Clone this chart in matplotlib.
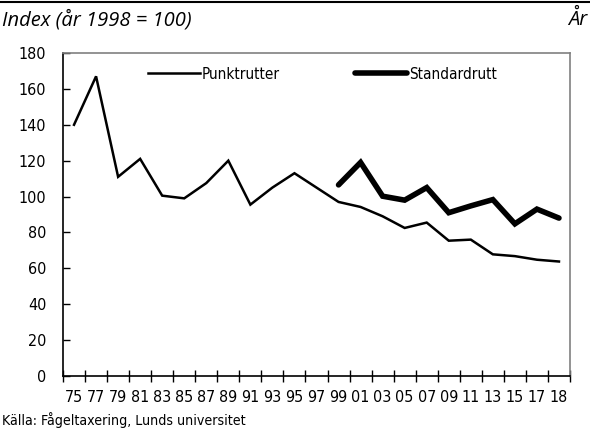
import numpy as np
import matplotlib
matplotlib.use('Agg')
import matplotlib.pyplot as plt
from matplotlib.ticker import FixedLocator, NullFormatter
from matplotlib.font_manager import FontProperties

# Data
years = ['75', '77', '79', '81', '83', '85', '87', '89', '91', '93', '95', '97',
         '99', '01', '03', '05', '07', '09', '11', '13', '15', '17', '18']
punkt = [140, 167, 111, 121, 100.5, 99, 107.5, 120, 95.5, 105, 113, 105,
         97, 94.2, 89, 82.5, 85.5, 75.4, 76, 67.8, 66.8, 64.8, 63.8]
standard = [106.5, 119, 100.2, 98, 105, 91, 94.8, 98.3, 84.8, 93, 88]
standard_start = 12  # 1999
yticks = [0, 20, 40, 60, 80, 100, 120, 140, 160, 180]

narrow = FontProperties(family='DejaVu Sans', stretch='condensed', size=11.5)
legfont = FontProperties(family='DejaVu Sans', stretch='condensed', size=11)

fig = plt.figure(figsize=(5.9, 4.34), dpi=100)
ax = fig.add_axes([63/590, 1 - 376/434, (570 - 63)/590, (376 - 53)/434])

x = np.arange(len(years))
ax.plot(x, punkt, color='black', lw=1.8, label='Punktrutter', solid_joinstyle='miter')
xs = np.arange(standard_start, standard_start + len(standard))
ax.plot(xs, standard, color='black', lw=4, label='Standardrutt', solid_joinstyle='miter',
        solid_capstyle='round')

ax.set_xlim(-0.5, len(years) - 0.5)
ax.set_ylim(0, 180)
ax.set_yticks(yticks)
ax.set_yticklabels([str(v) for v in yticks], fontproperties=narrow)
ax.tick_params(axis='y', direction='in', length=5, width=1, pad=12)

# ticks between categories, labels at category centres
ax.xaxis.set_major_locator(FixedLocator(np.arange(-0.5, len(years), 1.0)))
ax.xaxis.set_major_formatter(NullFormatter())
ax.xaxis.set_minor_locator(FixedLocator(x))
ax.set_xticklabels(years, minor=True, fontproperties=narrow)
ax.tick_params(axis='x', which='major', direction='inout', length=8, width=1)
ax.tick_params(axis='x', which='minor', length=0, pad=10)

for s in ['left', 'bottom']:
    ax.spines[s].set_color('black')
    ax.spines[s].set_linewidth(1.2)
for s in ['top', 'right']:
    ax.spines[s].set_color('#808080')
    ax.spines[s].set_linewidth(1.2)

leg = ax.legend(loc='upper left', bbox_to_anchor=(0.14, 1.0), ncol=2, frameon=False,
                handlelength=3.4, handletextpad=0.15, columnspacing=4.9,
                prop=legfont)

fig.add_artist(plt.Line2D([0, 1], [1 - 2/434, 1 - 2/434], color='black', lw=1.5))
fig.text(2/590, 1 - 20/434, 'Index (år 1998 = 100)', style='italic', fontsize=14.5,
         family=['Open Sans', 'DejaVu Sans'], va='center', ha='left')
fig.text(587/590, 1 - 20/434, 'År', style='italic', fontsize=14.5,
         family=['Open Sans', 'DejaVu Sans'], va='center', ha='right')
fig.text(2/590, 1 - 420/434, 'Källa: Fågeltaxering, Lunds universitet',
         fontproperties=legfont, va='center', ha='left', fontsize=10.2)

fig.savefig('out.png', dpi=100)
